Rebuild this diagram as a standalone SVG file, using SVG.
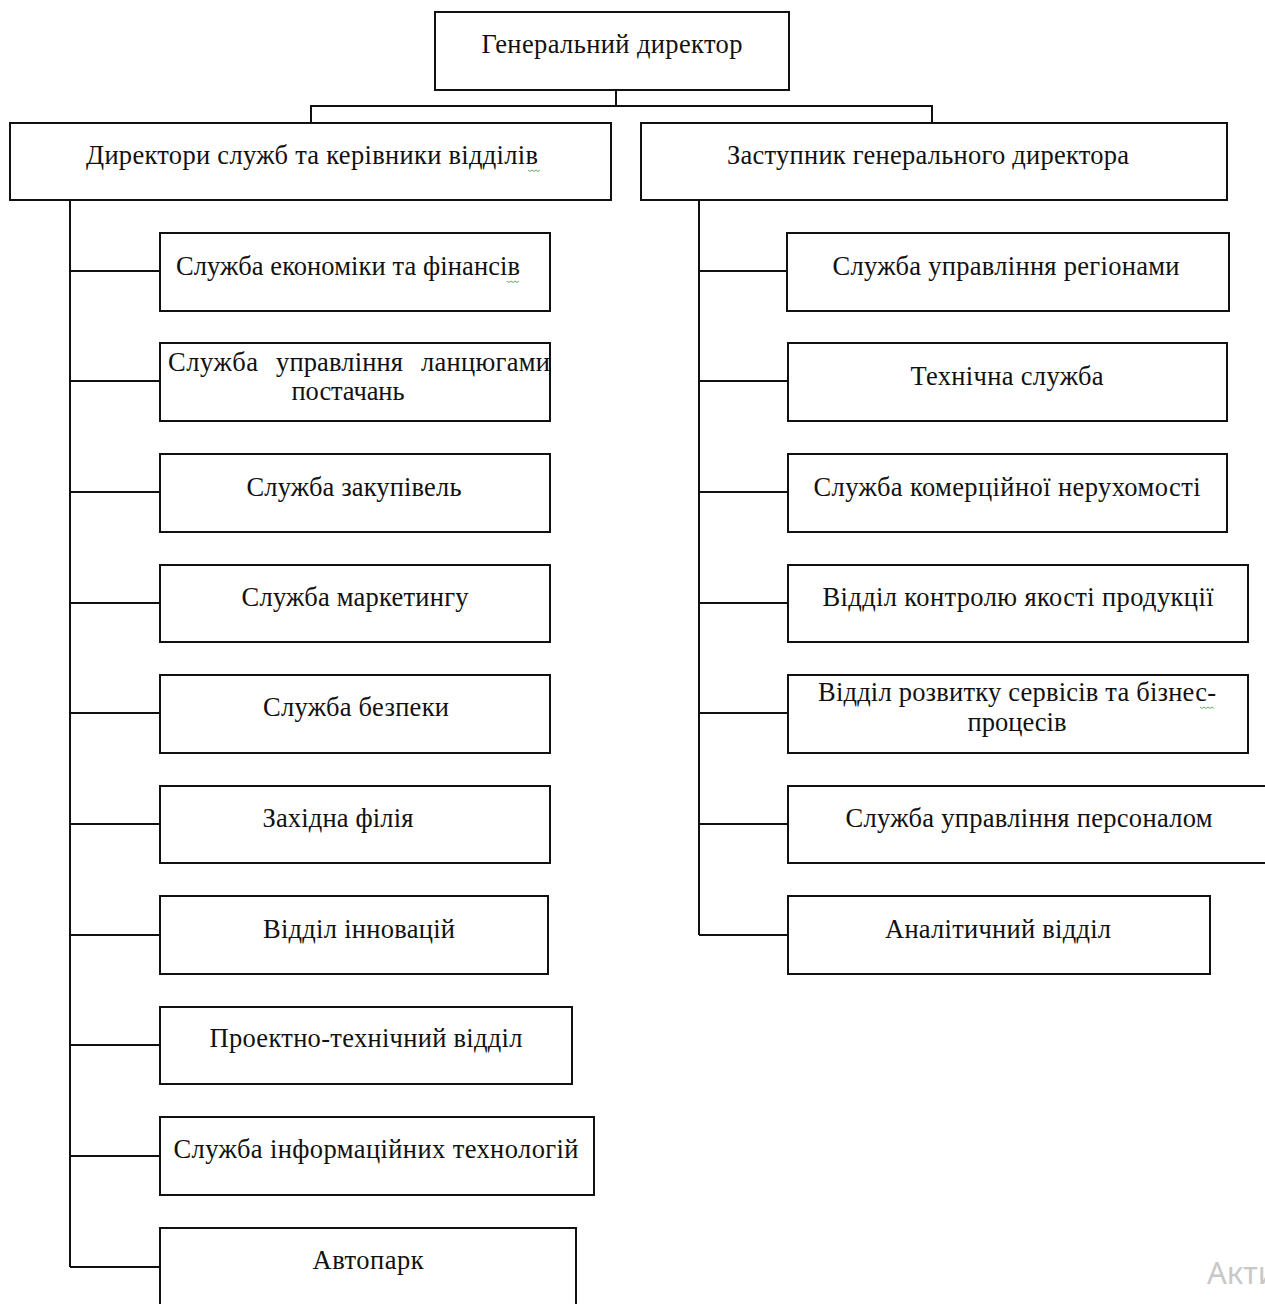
<svg xmlns="http://www.w3.org/2000/svg" width="1265" height="1304" viewBox="0 0 1265 1304">
<style>
.box{fill:#fff;stroke:#111;stroke-width:2}
.ln{fill:none;stroke:#111;stroke-width:2}
text{font-family:"Liberation Serif","Times New Roman",serif;font-size:26.5px;fill:#111;text-anchor:middle}
.st{text-anchor:start}
.sq{fill:none;stroke:#3a9a3a;stroke-width:0.8}
.wm{font-family:"Noto Sans","Open Sans",sans-serif;font-size:31px;fill:#c8c8c8;text-anchor:start}
</style>
<rect width="1265" height="1304" fill="#fff"/>
<g id="connectors">
<path class="ln" d="M616 90V106M311 123V106H932V123"/>
<path class="ln" d="M70 200V1267M70 271H160M70 381H160M70 492H160M70 603H160M70 713H160M70 824H160M70 935H160M70 1045H160M70 1156H160M70 1267H160"/>
<path class="ln" d="M699 200V935M699 271H787M699 381H788M699 492H788M699 603H788M699 713H788M699 824H788M699 935H788"/>
</g>
<g id="gd"><rect class="box" x="435" y="12" width="354" height="78"/><text x="612" y="53" textLength="261">Генеральний директор</text></g>
<g id="dirs"><rect class="box" x="10" y="123" width="601" height="77"/><text x="312" y="164" textLength="452">Директори служб та керівники відділів</text><path class="sq" d="M528 170l2 1.5 2-1.5 2 1.5 2-1.5 2 1.5 2-1.5"/></g>
<g id="deputy"><rect class="box" x="641" y="123" width="586" height="77"/><text x="928" y="164" textLength="402">Заступник генерального директора</text></g>

<g id="l1"><rect class="box" x="160" y="233" width="390" height="78"/><text x="348" y="275" textLength="344">Служба економіки та фінансів</text><path class="sq" d="M507 281l2 1.5 2-1.5 2 1.5 2-1.5 2 1.5 2-1.5"/></g>
<g id="l2"><rect class="box" x="160" y="343" width="390" height="78"/><text class="st" y="371"><tspan x="168" textLength="90">Служба</tspan><tspan x="276" textLength="127">управління</tspan><tspan x="421" textLength="129">ланцюгами</tspan></text><text x="348" y="400" textLength="113">постачань</text></g>
<g id="l3"><rect class="box" x="160" y="454" width="390" height="78"/><text x="354" y="496" textLength="215">Служба закупівель</text></g>
<g id="l4"><rect class="box" x="160" y="565" width="390" height="77"/><text x="355" y="606" textLength="227">Служба маркетингу</text></g>
<g id="l5"><rect class="box" x="160" y="675" width="390" height="78"/><text x="356" y="716" textLength="186">Служба безпеки</text></g>
<g id="l6"><rect class="box" x="160" y="786" width="390" height="77"/><text x="338" y="827" textLength="151">Західна філія</text></g>
<g id="l7"><rect class="box" x="160" y="896" width="388" height="78"/><text x="359" y="938" textLength="192">Відділ інновацій</text></g>
<g id="l8"><rect class="box" x="160" y="1007" width="412" height="77"/><text x="366" y="1047" textLength="313">Проектно-технічний відділ</text></g>
<g id="l9"><rect class="box" x="160" y="1117" width="434" height="78"/><text x="376" y="1158" textLength="405">Служба інформаційних технологій</text></g>
<g id="l10"><rect class="box" x="160" y="1228" width="416" height="80"/><text x="368" y="1269" textLength="111">Автопарк</text></g>

<g id="r1"><rect class="box" x="787" y="233" width="442" height="78"/><text x="1006" y="275" textLength="347">Служба управління регіонами</text></g>
<g id="r2"><rect class="box" x="788" y="343" width="439" height="78"/><text x="1007" y="385" textLength="193">Технічна служба</text></g>
<g id="r3"><rect class="box" x="788" y="454" width="439" height="78"/><text x="1007" y="496" textLength="387">Служба комерційної нерухомості</text></g>
<g id="r4"><rect class="box" x="788" y="565" width="460" height="77"/><text x="1018" y="606" textLength="391">Відділ контролю якості продукції</text></g>
<g id="r5"><rect class="box" x="788" y="675" width="460" height="78"/><text x="1017" y="701" textLength="398">Відділ розвитку сервісів та бізнес-</text><text x="1017" y="731" textLength="99">процесів</text><path class="sq" d="M1200 707l2 1.5 2-1.5 2 1.5 2-1.5 2 1.5 2-1.5 2 1.5"/></g>
<g id="r6"><rect class="box" x="788" y="786" width="490" height="77"/><text x="1029" y="827" textLength="367">Служба управління персоналом</text></g>
<g id="r7"><rect class="box" x="788" y="896" width="422" height="78"/><text x="998" y="938" textLength="226">Аналітичний відділ</text></g>

<text class="wm" x="1207" y="1284">Акти</text>
</svg>
